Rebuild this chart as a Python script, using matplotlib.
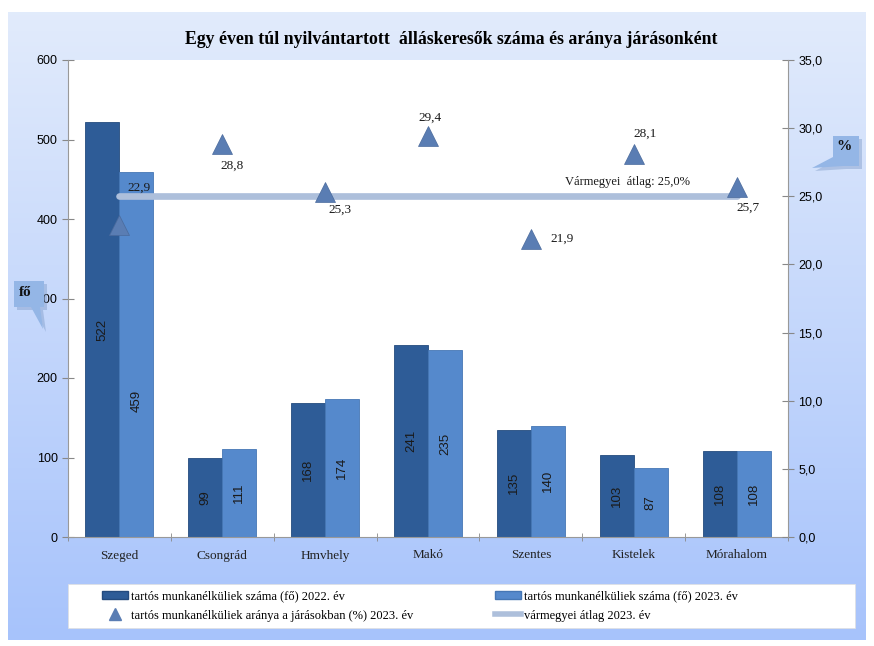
import numpy as np
import matplotlib.pyplot as plt
from matplotlib.patches import Rectangle, Polygon
from matplotlib.lines import Line2D
from matplotlib.ticker import FuncFormatter

# adatok
districts = ["Szeged", "Csongrád", "Hmvhely", "Makó", "Szentes", "Kistelek", "Mórahalom"]
count_2022 = [522, 99, 168, 241, 135, 103, 108]
count_2023 = [459, 111, 174, 235, 140, 87, 108]
rate_2023 = [22.9, 28.8, 25.3, 29.4, 21.9, 28.1, 25.7]
county_avg = 25.0

legend_labels = ["tartós munkanélküliek száma (fő) 2022. év",
                 "tartós munkanélküliek aránya a járásokban (%) 2023. év",
                 "tartós munkanélküliek száma (fő) 2023. év",
                 "vármegyei átlag 2023. év"]

# címke eltolások pixelben (triangle value labels)
rate_offsets = [(20, 37), (10, -21), (15, -18), (2, 19), (31, 0), (11, 20), (11, -21)]

W, H = 874, 646
def fx(x):
    return x / W
def fy(y):
    return 1 - y / H

serif = "Liberation Serif"
sans = "Liberation Sans"
c22 = "#2e5c97"
c23 = "#5589cc"
ctri = "#5a7db3"
cavg = "#adbfdb"

fig = plt.figure(figsize=(8.74, 6.46), dpi=100)

# háttér színátmenet
bg = fig.add_axes([fx(8), fy(640), fx(866) - fx(8), fy(12) - fy(640)])
grad = np.linspace(0, 1, 256).reshape(-1, 1)
top = np.array([0.885, 0.922, 0.986])
bot = np.array([0.655, 0.765, 0.988])
img = top + (bot - top) * grad[:, :, None]
bg.imshow(img, aspect="auto", extent=[0, 1, 0, 1])
bg.axis("off")

ax = fig.add_axes([fx(68), fy(537), fx(788) - fx(68), fy(60) - fy(537)])
ax.set_facecolor("white")
x = np.arange(len(districts))
w = 0.33
b1 = ax.bar(x - w / 2, count_2022, w, color=c22, edgecolor="#244b7e", linewidth=0.6, zorder=2)
b2 = ax.bar(x + w / 2, count_2023, w, color=c23, edgecolor="#4677b5", linewidth=0.6, zorder=2)

label_shift = {(0, 1): -46}
for j, bars in enumerate([b1, b2]):
    for i, r in enumerate(bars):
        v = r.get_height()
        ax.annotate(str(int(v)), (r.get_x() + r.get_width() / 2, v / 2),
                    xytext=(0, label_shift.get((i, j), 0)), textcoords="offset pixels",
                    ha="center", va="center", rotation=90, fontsize=9.5,
                    family=sans, color="#1a1a1a", zorder=3)

ax.set_xlim(-0.5, len(districts) - 0.5)
ax.set_ylim(0, 600)
ax.set_yticks(range(0, 601, 100))
ax.set_xticks(x)
ax.set_xticklabels(districts, family=serif, fontsize=9.5, color="#222222")
ax.set_xticks(np.arange(-0.5, len(districts)), minor=True)
ax.tick_params(axis="x", which="major", length=0, pad=9)
ax.tick_params(axis="x", which="minor", length=6, direction="inout", color="#888888")
ax.tick_params(axis="y", length=8, direction="inout", color="#888888", labelsize=9)
for t in ax.get_yticklabels():
    t.set_family(sans)
for s in ["top", "right"]:
    ax.spines[s].set_visible(False)
for s in ["left", "bottom"]:
    ax.spines[s].set_color("#999999")

ax2 = ax.twinx()
ax2.set_ylim(0, 35)
ax2.set_yticks(np.arange(0, 36, 5))
ax2.yaxis.set_major_formatter(FuncFormatter(lambda v, p: ("%.1f" % v).replace(".", ",")))
ax2.tick_params(axis="y", length=8, direction="inout", color="#888888", labelsize=9)
for t in ax2.get_yticklabels():
    t.set_family(sans)
for s in ["top", "left", "bottom"]:
    ax2.spines[s].set_visible(False)
ax2.spines["right"].set_color("#999999")

ax2.plot([x[0], x[-1]], [county_avg, county_avg], color=cavg, lw=4.8,
         solid_capstyle="round", zorder=3)
ax2.plot(x, rate_2023, linestyle="none", marker="^", ms=14, color=ctri,
         markeredgecolor="#4a6a9c", markeredgewidth=0.5, zorder=4)
for i, v in enumerate(rate_2023):
    dx, dy = rate_offsets[i]
    ax2.annotate(("%.1f" % v).replace(".", ","), (x[i], v), xytext=(dx, dy),
                 textcoords="offset pixels", ha="center", va="center",
                 family=serif, fontsize=9.5, color="#1a1a1a")
ax2.annotate("Vármegyei  átlag: " + ("%.1f" % county_avg).replace(".", ",") + "%",
             (x[-1], county_avg), xytext=(-109, 14), textcoords="offset pixels",
             ha="center", va="center", family=serif, fontsize=9, color="#1a1a1a")

# cím
fig.text(fx(451), fy(40), "Egy éven túl nyilvántartott  álláskeresők száma és aránya járásonként",
         ha="center", va="center", family=serif, fontsize=12.8, fontweight="bold")

# szövegbuborékok
def callout(pts, tx, ty, txt):
    sh = [(px + 3, py + 3) for px, py in pts]
    fig.patches.append(Polygon([(fx(a), fy(b)) for a, b in sh], closed=True,
                               transform=fig.transFigure, facecolor="#7f9cc8",
                               edgecolor="none", alpha=0.45, zorder=1))
    fig.patches.append(Polygon([(fx(a), fy(b)) for a, b in pts], closed=True,
                               transform=fig.transFigure, facecolor="#94b6e6",
                               edgecolor="none", zorder=2))
    fig.text(fx(tx), fy(ty), txt, ha="center", va="center", family=serif,
             fontsize=11, fontweight="bold", color="#111111", zorder=3)

callout([(14, 281), (44, 281), (44, 307), (40, 307), (43, 329), (31, 307), (14, 307)], 25, 293, "fő")
callout([(833, 136), (859, 136), (859, 166), (843, 166), (812, 168), (833, 157)], 844, 147, "%")

# jelmagyarázat
fig.patches.append(Rectangle((fx(68), fy(628)), fx(855) - fx(68), fy(584) - fy(628),
                             transform=fig.transFigure, facecolor="white",
                             edgecolor="#e0e0e0", linewidth=0.5, zorder=1))
handles = [Rectangle((0, 0), 1, 1, facecolor=c22, edgecolor="#244b7e"),
           Line2D([], [], linestyle="none", marker="^", ms=9, color=ctri),
           Rectangle((0, 0), 1, 1, facecolor=c23, edgecolor="#4677b5"),
           Line2D([], [], color=cavg, lw=4)]
leg = fig.legend(handles, legend_labels, ncol=2, loc="upper left",
                 bbox_to_anchor=(fx(102), fy(590)), frameon=False,
                 prop={"family": serif, "size": 9}, handlelength=2.1,
                 handleheight=0.6, handletextpad=0.2, columnspacing=6.55,
                 labelspacing=0.6, borderaxespad=0, borderpad=0)
leg.set_zorder(5)

plt.savefig("out.png", dpi=100)
